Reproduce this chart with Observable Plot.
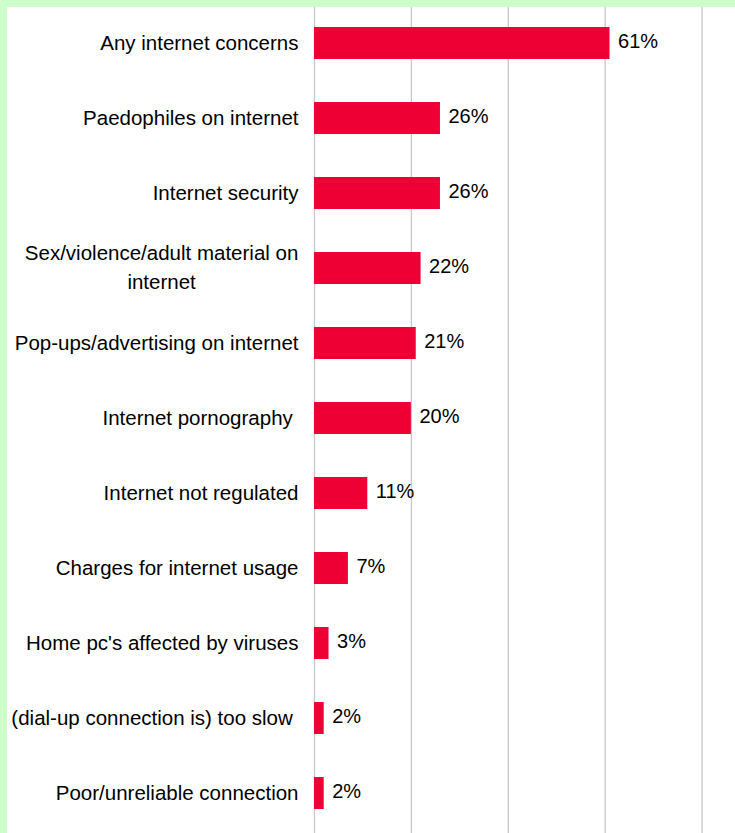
<!DOCTYPE html>
<html>
<head>
<meta charset="utf-8">
<script src="https://cdn.jsdelivr.net/npm/d3@7"></script>
<script src="https://cdn.jsdelivr.net/npm/@observablehq/plot@0.6"></script>
<style>
  html, body { margin: 0; padding: 0; background: #fff; }
  #frame { width: 735px; height: 833px; box-sizing: border-box; background: #ccffcc; padding: 7px 0 0 7px; overflow: hidden; }
  #chart { background: #fff; width: 728px; height: 826px; }
  #chart svg text { white-space: pre; }
</style>
</head>
<body>
<div id="frame"><div id="chart"></div></div>
<script>
const categories = [
  "Any internet concerns",
  "Paedophiles on internet",
  "Internet security",
  "Sex/violence/adult material on\ninternet",
  "Pop-ups/advertising on internet",
  "Internet pornography ",
  "Internet not regulated",
  "Charges for internet usage",
  "Home pc's affected by viruses",
  "(dial-up connection is) too slow ",
  "Poor/unreliable connection"
];
const values = [61, 26, 26, 22, 21, 20, 11, 7, 3, 2, 2];
const gridTicks = [0, 20, 40, 60, 80];

const data = categories.map((c, i) => ({category: c, value: values[i]}));

const plot = Plot.plot({
  width: 728,
  height: 826,
  marginLeft: 307,
  marginRight: 0,
  marginTop: 0,
  marginBottom: 0,
  style: {fontFamily: "'Liberation Sans', Arial, sans-serif", fontSize: "20px", color: "#000", background: "#fff"},
  x: {domain: [0, 86.9], axis: null},
  y: {domain: categories, axis: null, paddingInner: 0.573, paddingOuter: 0.2865, insetTop: -1.5, insetBottom: 1.5},
  marks: [
    Plot.ruleX(gridTicks, {stroke: "#c8c8c8", strokeWidth: 1.3, strokeOpacity: 1}),
    Plot.barX(data, {x: "value", y: "category", fill: "#ee0035"}),
    Plot.text(data, {x: "value", y: "category", text: d => d.value + "%", textAnchor: "start", dx: 8, dy: -1.5, fill: "#000", fontSize: 20}),
    Plot.text(data, {x: 0, y: "category", text: "category", textAnchor: "end", dx: -16, dy: -3, fill: "#000", fontSize: 20.5, lineHeight: 1.37, lineAnchor: "middle"})
  ]
});
document.getElementById("chart").appendChild(plot);

// Excel-style centered multi-line labels: center lines within the right-aligned block
plot.querySelectorAll("text").forEach(t => {
  const spans = t.querySelectorAll("tspan");
  if (spans.length > 1) {
    const w = t.getBBox().width;
    t.setAttribute("text-anchor", "middle");
    const prev = t.getAttribute("transform") || "";
    t.setAttribute("transform", prev + ` translate(${-w / 2},0)`);
  }
});
</script>
</body>
</html>
